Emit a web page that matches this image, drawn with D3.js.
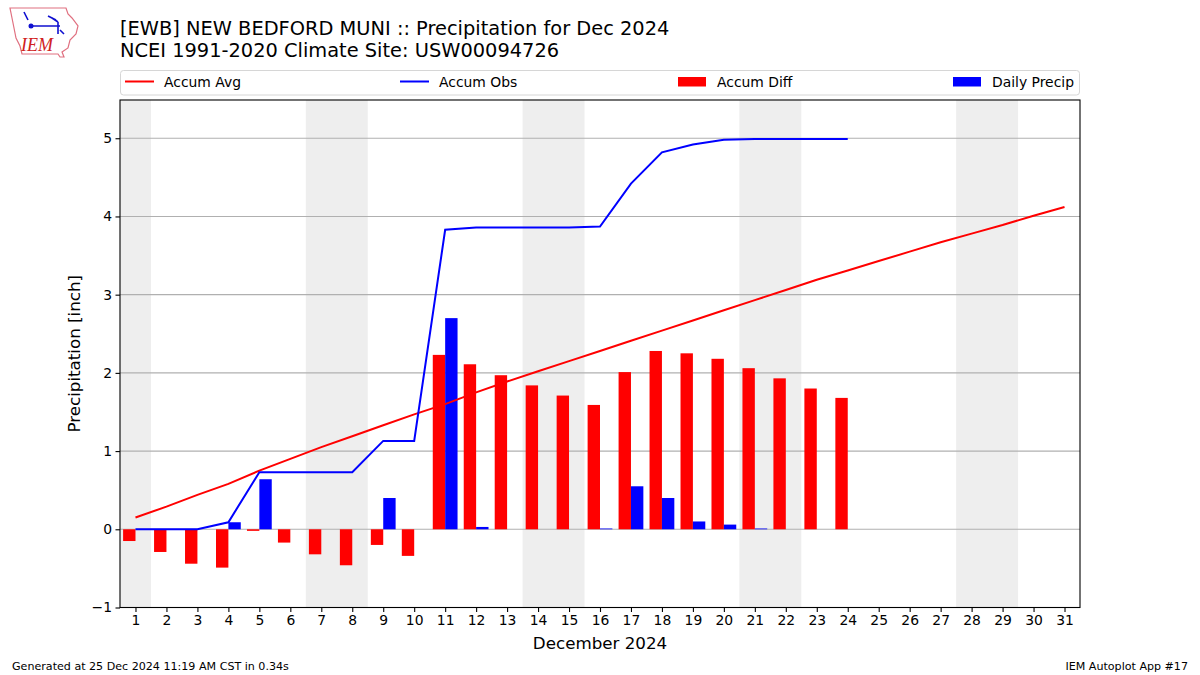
<!DOCTYPE html>
<html>
<head>
<meta charset="utf-8">
<script src="https://cdn.jsdelivr.net/npm/d3@7"></script>
<style>
  html, body { margin: 0; padding: 0; background: #fff; }
  svg { display: block; font-family: "DejaVu Sans", sans-serif; }
</style>
</head>
<body>
<svg id="chart" width="1200" height="675"></svg>
<script>
// ---- data ----
const days = d3.range(1, 32);
const accumAvg = [0.15, 0.29, 0.44, 0.58, 0.75, 0.90, 1.05, 1.19, 1.33, 1.47, 1.60, 1.75, 1.89, 2.02, 2.15, 2.28, 2.41, 2.54, 2.67, 2.80, 2.93, 3.06, 3.19, 3.31, 3.43, 3.55, 3.67, 3.78, 3.89, 4.01, 4.12];
const obsDays = d3.range(1, 25);
const dailyPrecip = [0, 0, 0, 0.09, 0.64, 0, 0, 0, 0.40, 0, 2.70, 0.03, 0, 0, 0, 0.01, 0.55, 0.40, 0.10, 0.06, 0.01, 0, 0, 0];
const accumObs = [0, 0, 0, 0.09, 0.73, 0.73, 0.73, 0.73, 1.13, 1.13, 3.83, 3.86, 3.86, 3.86, 3.86, 3.87, 4.42, 4.82, 4.92, 4.98, 4.99, 4.99, 4.99, 4.99];
const accumDiff = [-0.15, -0.29, -0.44, -0.49, -0.02, -0.17, -0.32, -0.46, -0.20, -0.34, 2.23, 2.11, 1.97, 1.84, 1.71, 1.59, 2.01, 2.28, 2.25, 2.18, 2.06, 1.93, 1.80, 1.68];
const weekends = [[1, 1], [7, 8], [14, 15], [21, 22], [28, 29]];
const yTicks = [-1, 0, 1, 2, 3, 4, 5];
const titleLines = ["[EWB] NEW BEDFORD MUNI :: Precipitation for Dec 2024", "NCEI 1991-2020 Climate Site: USW00094726"];
const legendItems = [
  {label: "Accum Avg", type: "line", color: "#ff0000"},
  {label: "Accum Obs", type: "line", color: "#0000ff"},
  {label: "Accum Diff", type: "rect", color: "#ff0000"},
  {label: "Daily Precip", type: "rect", color: "#0000ff"}
];

// ---- layout ----
const svg = d3.select("#chart");
const L = 120, R = 1080, T = 100, B = 607.5;
const x = d3.scaleLinear().domain([0.5, 31.5]).range([L, R]);
const y = d3.scaleLinear().domain([-1, 5.489]).range([B, T]);

svg.append("defs").append("clipPath").attr("id", "clip")
  .append("rect").attr("x", L).attr("y", T).attr("width", R - L).attr("height", B - T);
const plot = svg.append("g").attr("clip-path", "url(#clip)");

// weekend shading
plot.selectAll("rect.wk").data(weekends).join("rect")
  .attr("x", d => x(d[0] - 0.5)).attr("width", d => x(d[1] + 0.5) - x(d[0] - 0.5))
  .attr("y", T).attr("height", B - T).attr("fill", "#eeeeee");

// grid
plot.selectAll("line.grid").data(yTicks).join("line")
  .attr("x1", L).attr("x2", R).attr("y1", d => y(d)).attr("y2", d => y(d))
  .attr("stroke", "#b0b0b0").attr("stroke-width", 1.1);

// bars
plot.selectAll("rect.diff").data(obsDays).join("rect")
  .attr("x", d => x(d - 0.4)).attr("width", x(0.4) - x(0))
  .attr("y", (d, i) => y(Math.max(0, accumDiff[i])))
  .attr("height", (d, i) => Math.abs(y(accumDiff[i]) - y(0)))
  .attr("fill", "#ff0000");
plot.selectAll("rect.daily").data(obsDays).join("rect")
  .attr("x", d => x(d)).attr("width", x(0.4) - x(0))
  .attr("y", (d, i) => y(dailyPrecip[i]))
  .attr("height", (d, i) => y(0) - y(dailyPrecip[i]))
  .attr("fill", "#0000ff");

// lines
plot.append("path").datum(days)
  .attr("d", d3.line().x(d => x(d)).y((d, i) => y(accumAvg[i])))
  .attr("fill", "none").attr("stroke", "#ff0000").attr("stroke-width", 2);
plot.append("path").datum(obsDays)
  .attr("d", d3.line().x(d => x(d)).y((d, i) => y(accumObs[i])))
  .attr("fill", "none").attr("stroke", "#0000ff").attr("stroke-width", 2);

// frame
svg.append("rect").attr("x", L).attr("y", T).attr("width", R - L).attr("height", B - T)
  .attr("fill", "none").attr("stroke", "#000").attr("stroke-width", 1.1);

// axes
const xAxis = svg.append("g").attr("transform", `translate(0,${B})`)
  .call(d3.axisBottom(x).tickValues(days).tickSize(4.5).tickPadding(3.5).tickFormat(d3.format("d")));
const yAxis = svg.append("g").attr("transform", `translate(${L},0)`)
  .call(d3.axisLeft(y).tickValues(yTicks).tickSize(4.5).tickPadding(3.5)
    .tickFormat(d => d < 0 ? "\u2212" + Math.abs(d) : d));
[xAxis, yAxis].forEach(a => {
  a.select(".domain").remove();
  a.selectAll("text").attr("font-size", 13.9).attr("font-family", "DejaVu Sans").attr("fill", "#000");
  a.selectAll("line").attr("stroke", "#000").attr("stroke-width", 1.1);
});

// axis labels
svg.append("text").attr("x", 600).attr("y", 649).attr("text-anchor", "middle")
  .attr("font-size", 16.7).text("December 2024");
svg.append("text").attr("transform", `translate(80,${(T + B) / 2}) rotate(-90)`)
  .attr("text-anchor", "middle").attr("font-size", 16.7).text("Precipitation [inch]");

// title
svg.selectAll("text.title").data(titleLines).join("text")
  .attr("x", 120).attr("y", (d, i) => 35 + i * 22)
  .attr("font-size", 19.4).text(d => d);

// legend
const lg = svg.append("g");
lg.append("rect").attr("x", 120.5).attr("y", 70.5).attr("width", 959).attr("height", 24.5)
  .attr("rx", 3).attr("fill", "#fff").attr("stroke", "#d6d6d6").attr("stroke-width", 1);
const lxs = [125, 400, 678, 953];
legendItems.forEach((it, i) => {
  const gx = lxs[i];
  if (it.type === "line") {
    lg.append("line").attr("x1", gx).attr("x2", gx + 29).attr("y1", 81.5).attr("y2", 81.5)
      .attr("stroke", it.color).attr("stroke-width", 2);
  } else {
    lg.append("rect").attr("x", gx).attr("y", 77).attr("width", 28).attr("height", 9.5).attr("fill", it.color);
  }
  lg.append("text").attr("x", gx + 39).attr("y", 86.5).attr("font-size", 13.9).text(it.label);
});

// footer
svg.append("text").attr("x", 12).attr("y", 670).attr("font-size", 11.1).text("Generated at 25 Dec 2024 11:19 AM CST in 0.34s");
svg.append("text").attr("x", 1188).attr("y", 670).attr("text-anchor", "end").attr("font-size", 11.1).text("IEM Autoplot App #17");

// logo (simplified)
const logo = svg.append("g");
logo.append("path")
  .attr("d", "M10,8 L66,8 L68,14 L72,18 L78,26 L76,34 L70,40 L68,48 L62,52 L64,57 L60,57 L58,54 L22,54 L20,46 L16,38 L14,28 L12,18 Z")
  .attr("fill", "none").attr("stroke", "#e07080").attr("stroke-width", 1.2);
logo.append("path").attr("d", "M30,26 L60,26 M52,18 L58,22 M58,22 L58,34 M60,30 L64,34 M24,12 L28,20 M48,16 L56,20")
  .attr("fill", "none").attr("stroke", "#1010d0").attr("stroke-width", 1.6);
logo.append("circle").attr("cx", 31).attr("cy", 26).attr("r", 2.5).attr("fill", "#1010d0");
logo.append("text").attr("x", 21).attr("y", 51).attr("font-family", "Liberation Serif, serif")
  .attr("font-style", "italic").attr("font-size", 18).attr("fill", "#d02020").text("IEM");
</script>
</body>
</html>
